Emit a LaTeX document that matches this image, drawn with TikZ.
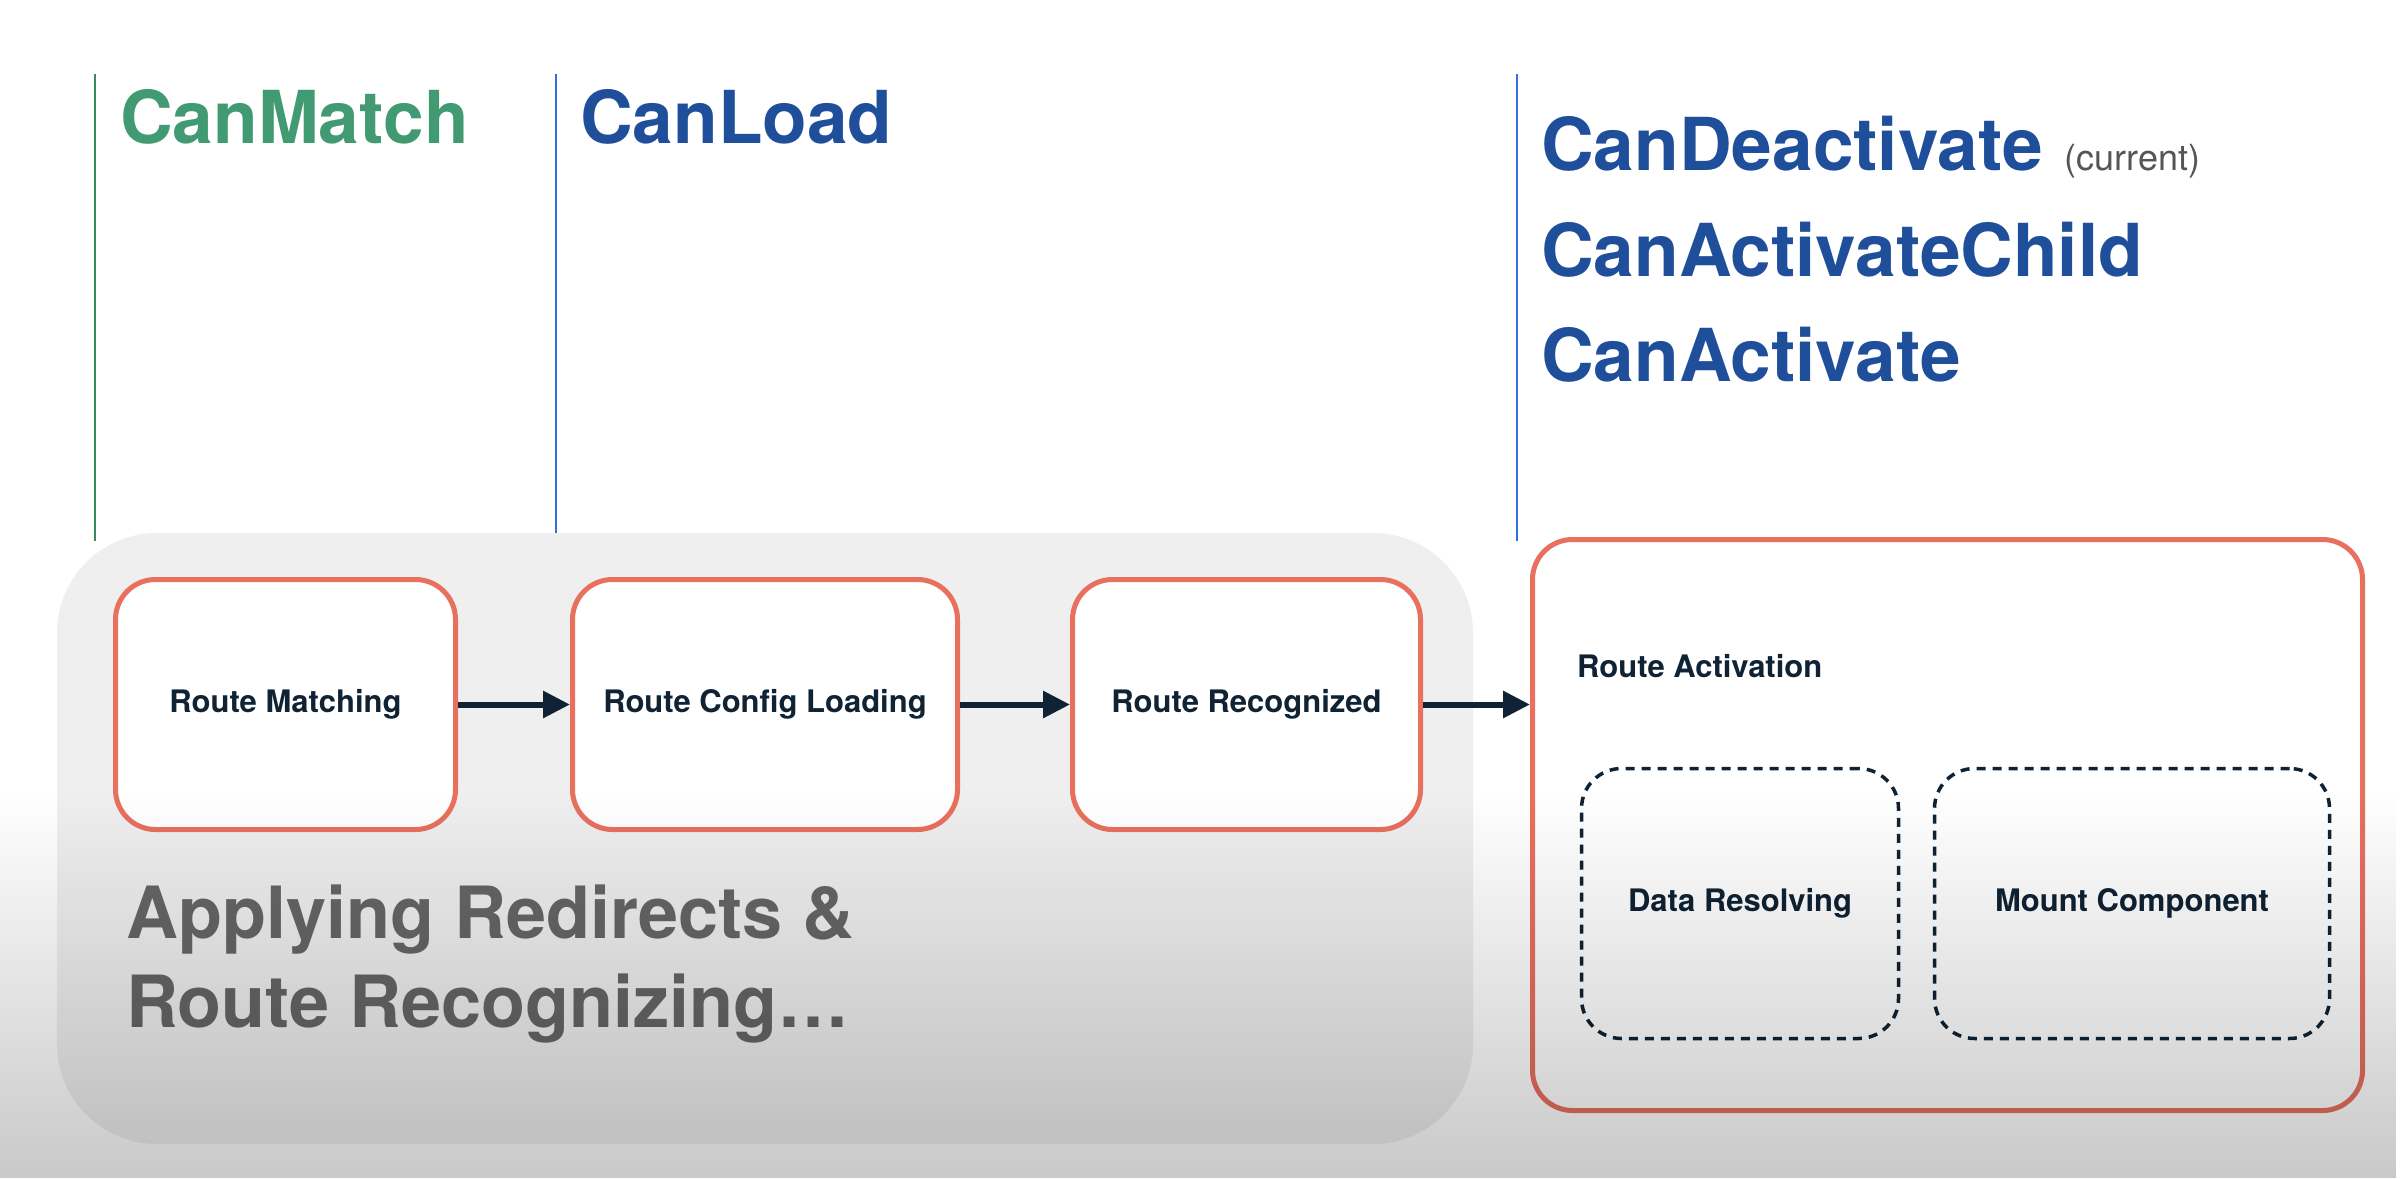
\documentclass[tikz,border=0pt]{standalone}
\usepackage{fontspec}
\setmainfont{TeX Gyre Heros}
\usetikzlibrary{arrows.meta,fadings}
\definecolor{redb}{HTML}{E8705F}
\definecolor{grn}{HTML}{419A72}
\definecolor{blu}{HTML}{1F4E9B}
\definecolor{lgrn}{HTML}{3A8A60}
\definecolor{lblu}{HTML}{2F6FE0}
\definecolor{navy}{HTML}{0F2334}
\definecolor{panelc}{HTML}{EFEFEF}
\definecolor{txtg}{HTML}{666666}
\definecolor{curg}{HTML}{555555}
\begin{document}
\begin{tikzpicture}[x=1pt,y=-1pt,
  stagebox/.style={draw=redb, line width=5pt, fill=white, rounded corners=40pt,
    minimum height=250pt, inner sep=0pt, text=navy,
    font=\fontsize{31}{36}\selectfont\bfseries},
  subbox/.style={draw=navy, line width=3.5pt, dash pattern=on 9pt off 7pt,
    rounded corners=40pt, minimum height=270pt, inner sep=0pt, text=navy,
    font=\fontsize{31}{36}\selectfont\bfseries},
  flow/.style={-{Triangle[length=27pt,width=26pt]}, line width=6pt, draw=navy},
  guard/.style={anchor=base west, inner sep=0pt,
    font=\fontsize{73}{86}\selectfont\bfseries},
  marker/.style={line width=2.5pt}]
\useasboundingbox (0,0) rectangle (2408,1178);
\fill[white] (0,0) rectangle (2408,1178);

% vertical guard markers
\coordinate (g1t) at (95,74);   \coordinate (g1b) at (95,541);
\coordinate (g2t) at (556,74);  \coordinate (g2b) at (556,541);
\coordinate (g3t) at (1517,74); \coordinate (g3b) at (1517,541);
\draw[marker, lgrn] (g1t) -- (g1b);
\draw[marker, lblu] (g2t) -- (g2b);
\draw[marker, lblu] (g3t) -- (g3b);

% guard names
\node[guard, text=grn] (cm) at (120,143) {CanMatch};
\node[guard, text=blu] (cl) at (580,143) {CanLoad};
\node[guard, text=blu] (cd) at (1541,170) {CanDeactivate\hspace{22pt}{\fontsize{36}{40}\selectfont\mdseries\color{curg}(current)}};
\node[guard, text=blu] (cac) at (1541,276) {CanActivateChild};
\node[guard, text=blu] (ca) at (1541,381) {CanActivate};

% grey panel
\node[fill=panelc, rounded corners=100pt, minimum width=1416pt, minimum height=611pt, inner sep=0pt] (panel) at (765,838.5) {};

% stages
\node[stagebox, minimum width=340pt] (rm) at (285.5,704.5) {Route Matching};
\node[stagebox, minimum width=385pt] (rc) at (765,704.5) {Route Config Loading};
\node[stagebox, minimum width=348pt] (rr) at (1246.5,704.5) {Route Recognized};
\node[stagebox, minimum width=830pt, minimum height=571pt] (ra) at (1947.5,825) {};
\node[anchor=base west, inner sep=0pt, text=navy, font=\fontsize{31}{36}\selectfont\bfseries] (ral) at (1577,677) {Route Activation};
\node[subbox, minimum width=317pt] (dr) at (1740,903.5) {Data Resolving};
\node[subbox, minimum width=395pt] (mc) at (2132,903.5) {Mount Component};

% connectors
\draw[flow] (rm.east) -- (rc.west);
\draw[flow] (rc.east) -- (rr.west);
\draw[flow] (rr.east) -- (rr.east -| ra.west);

% panel caption (base anchor = baseline of last line)
\node[anchor=base west, inner sep=0pt, align=left, text=txtg,
  font=\fontsize{72}{89}\selectfont\bfseries] (cap) at (126,1027)
  {Applying Redirects \&\\Route Recognizing…};

% bottom darkening (video vignette)
\fill[black, opacity=0.21, path fading=north] (0,790) rectangle (2408,1178);
\end{tikzpicture}
\end{document}
